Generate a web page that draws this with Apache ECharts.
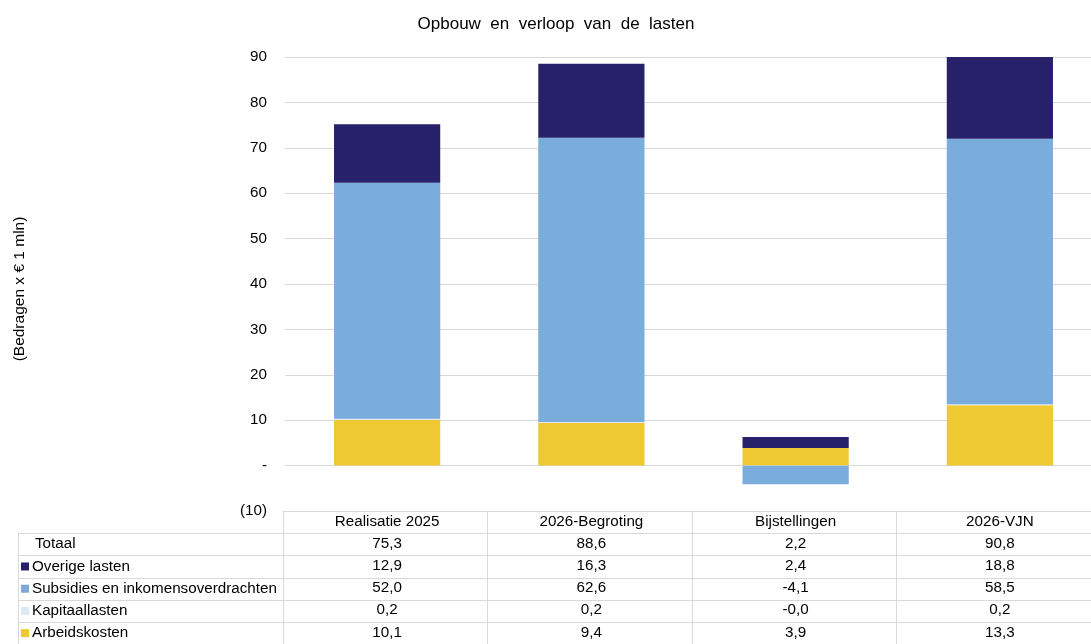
<!DOCTYPE html>
<html>
<head>
<meta charset="utf-8">
<script src="https://cdn.jsdelivr.net/npm/echarts@6/dist/echarts.min.js"></script>
<style>
html,body{margin:0;padding:0;background:#fff;}
#chart{width:1091px;height:644px;}
</style>
</head>
<body>
<div id="chart"></div>
<script>
var categories = ['Realisatie 2025', '2026-Begroting', 'Bijstellingen', '2026-VJN'];
var totaal = [75.3, 88.6, 2.2, 90.8];
var overigeLasten = [12.9, 16.3, 2.4, 18.8];
var subsidies = [52.0, 62.6, -4.1, 58.5];
var kapitaallasten = [0.2, 0.2, -0.02, 0.2];
var arbeidskosten = [10.1, 9.4, 3.9, 13.3];
var yTicks = [-10, 0, 10, 20, 30, 40, 50, 60, 70, 80, 90];

var FONT = '"Liberation Sans", Arial, sans-serif';
var TFS = 15.2;
var colors = {
  overige: '#27216a',
  subsidies: '#7aacdc',
  kapitaal: '#dde9f4',
  arbeid: '#eec932'
};

function fmt(v) {
  var s = Math.abs(v).toFixed(1).replace('.', ',');
  return (v < 0 ? '-' : '') + s;
}

var rows = [
  { name: 'Totaal', data: totaal, color: null },
  { name: 'Overige lasten', data: overigeLasten, color: colors.overige },
  { name: 'Subsidies en inkomensoverdrachten', data: subsidies, color: '#7fa9d2' },
  { name: 'Kapitaallasten', data: kapitaallasten, color: colors.kapitaal },
  { name: 'Arbeidskosten', data: arbeidskosten, color: colors.arbeid }
];

var W = 1091, H = 644;
var gridLeft = 285, gridWidth = 817, gridTop = 57, gridHeight = 454;
var rowH = 22.2;
var tableTop = 511;
var catW = gridWidth / categories.length;

var xAxes = [{
  type: 'category',
  data: categories,
  position: 'bottom',
  axisLine: { show: false },
  axisTick: { show: false },
  axisLabel: { interval: 0, margin: 3, color: '#000', fontFamily: FONT, fontSize: TFS }
}];
rows.forEach(function (r, i) {
  xAxes.push({
    type: 'category',
    data: categories,
    position: 'bottom',
    offset: rowH * (i + 1),
    gridIndex: 0,
    axisLine: { show: false },
    axisTick: { show: false },
    splitLine: { show: false },
    axisLabel: {
      interval: 0, margin: 3, color: '#000', fontFamily: FONT, fontSize: TFS,
      formatter: (function (arr) {
        return function (val, idx) { return fmt(arr[idx]); };
      })(r.data)
    }
  });
});

var graphics = [];
var lineStyle = { stroke: '#d9d9d9', lineWidth: 1 };
for (var k = 0; k <= rows.length + 1; k++) {
  var y = Math.round(tableTop + k * rowH) + 0.5;
  var x1 = k === 0 ? gridLeft - 2 : 18;
  graphics.push({ type: 'line', shape: { x1: x1, y1: y, x2: W, y2: y }, style: lineStyle, silent: true });
}
for (var c = 0; c <= categories.length; c++) {
  var x = Math.round(gridLeft - 2 + c * catW) + 0.5;
  graphics.push({ type: 'line', shape: { x1: x, y1: tableTop, x2: x, y2: H }, style: lineStyle, silent: true });
}
graphics.push({ type: 'line', shape: { x1: 18.5, y1: Math.round(tableTop + rowH) + 0.5, x2: 18.5, y2: H }, style: lineStyle, silent: true });
rows.forEach(function (r, i) {
  var cy = tableTop + rowH * (i + 1) + rowH / 2;
  if (r.color) {
    graphics.push({ type: 'rect', shape: { x: 21, y: cy - 4, width: 8, height: 8 }, style: { fill: r.color }, silent: true });
  }
  graphics.push({
    type: 'text', x: r.color ? 32 : 35, y: cy,
    style: { text: r.name, fill: '#000', font: TFS + 'px ' + FONT, verticalAlign: 'middle' },
    silent: true
  });
});
graphics.push({
  type: 'text', x: 20, y: 289, rotation: Math.PI / 2,
  style: { text: '(Bedragen x € 1 mln)', fill: '#000', font: '15.5px ' + FONT, align: 'center', verticalAlign: 'middle' },
  silent: true
});

function barSeries(name, data, color) {
  return {
    name: name, type: 'bar', stack: 'lasten', data: data,
    barCategoryGap: '48%',
    itemStyle: { color: color },
    emphasis: { disabled: true },
    clip: true
  };
}

var option = {
  animation: false,
  backgroundColor: '#fff',
  title: {
    text: 'Opbouw  en  verloop  van  de  lasten',
    left: 551, top: 11, textAlign: 'center',
    textStyle: { fontFamily: FONT, fontSize: 17, fontWeight: 'normal', color: '#000' }
  },
  grid: { left: gridLeft, width: gridWidth, top: gridTop, height: gridHeight, containLabel: false, outerBoundsMode: 'none' },
  xAxis: xAxes,
  yAxis: {
    type: 'value',
    min: yTicks[0], max: yTicks[yTicks.length - 1], interval: 10,
    axisLine: { show: false },
    axisTick: { show: false },
    axisLabel: {
      margin: 18, color: '#000', fontFamily: FONT, fontSize: TFS,
      formatter: function (v) {
        if (v === 0) return '-';
        if (v < 0) return '(' + Math.abs(v) + ')';
        return String(v);
      }
    },
    splitLine: { lineStyle: { color: '#d9d9d9', width: 1 } }
  },
  series: [
    barSeries('Arbeidskosten', arbeidskosten, colors.arbeid),
    barSeries('Kapitaallasten', kapitaallasten, colors.kapitaal),
    barSeries('Subsidies en inkomensoverdrachten', subsidies, colors.subsidies),
    barSeries('Overige lasten', overigeLasten, colors.overige)
  ],
  graphic: graphics
};

var chart = echarts.init(document.getElementById('chart'), null, { renderer: 'canvas', width: W, height: H });
chart.setOption(option);
</script>
</body>
</html>
